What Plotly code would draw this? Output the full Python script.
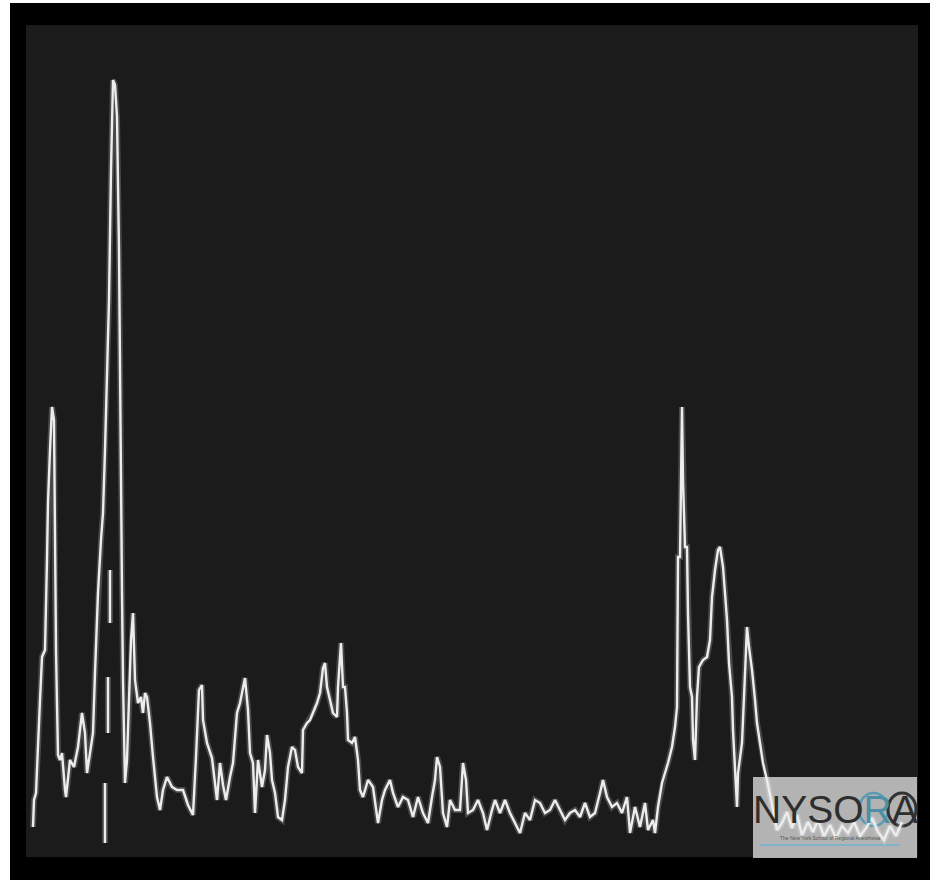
import plotly.graph_objects as go

# Trace samples (sample index along sweep, amplitude in display units)
sample = [7, 8, 10, 12, 14, 16, 19, 21, 22, 24, 26, 28, 29, 30, 31, 32, 34, 36, 39, 40,
          44, 48, 52, 56, 59, 61, 64, 67, 69, 72, 75, 77, 79, 81, 83, 85, 87, 89, 91, 93,
          94, 95, 96, 97, 98, 99, 101, 103, 105, 107, 109, 112, 115, 117, 119, 121, 124, 127, 131, 134,
          137, 141, 146, 151, 157, 162, 167, 170, 173, 176, 177, 181, 186, 191, 194, 197, 200, 204, 207, 211,
          214, 219, 222, 224, 227, 229, 232, 236, 239, 241, 244, 246, 249, 252, 256, 259, 262, 266, 269, 272,
          276, 277, 281, 284, 287, 291, 294, 297, 299, 301, 304, 307, 311, 312, 315, 317, 319, 321, 322, 326,
          329, 332, 334, 337, 342, 347, 352, 356, 359, 364, 367, 372, 377, 382, 387, 392, 397, 402, 406, 409,
          411, 414, 417, 421, 424, 429, 434, 437, 440, 442, 447, 452, 457, 461, 466, 469, 474, 479, 484, 489,
          494, 499, 504, 509, 514, 519, 524, 529, 534, 539, 544, 549, 554, 559, 564, 569, 574, 577, 581, 586,
          591, 596, 601, 604, 609, 614, 619, 622, 627, 629, 632, 636, 639, 642, 646, 649, 651, 652, 654, 656,
          657, 659, 661, 662, 664, 666, 667, 669, 671, 673, 677, 681, 684, 686, 689, 692, 694, 697, 699, 701,
          703, 706, 707, 709, 711, 712, 716, 718, 720, 721, 723, 726, 729, 731, 734, 737, 741, 746, 751, 756,
          761, 766, 771, 776, 782, 787, 792, 798, 804, 810, 816, 822, 828, 834, 840, 846, 852, 858, 864, 870, 876]
amplitude = [30, 57, 64, 117, 157, 200, 207, 297, 354, 407, 450, 437, 270, 207, 154, 102, 97, 104, 67, 60,
             97, 90, 110, 144, 124, 84, 104, 124, 184, 264, 317, 344, 407, 477, 557, 687, 777, 772, 740, 607,
             457, 377, 264, 177, 117, 74, 97, 157, 217, 244, 177, 154, 160, 144, 164, 160, 134, 100, 60, 47,
             67, 80, 70, 67, 67, 52, 42, 100, 167, 172, 137, 114, 99, 57, 94, 72, 57, 80, 94, 144,
             154, 179, 147, 104, 94, 44, 97, 70, 87, 122, 104, 77, 64, 40, 37, 57, 90, 110, 107, 90,
             84, 127, 134, 137, 144, 154, 164, 189, 194, 170, 157, 144, 140, 170, 214, 170, 170, 144, 117, 114,
             120, 97, 67, 60, 77, 70, 34, 57, 67, 77, 64, 50, 60, 57, 40, 60, 44, 34, 60, 77,
             100, 90, 44, 30, 57, 47, 47, 94, 77, 44, 47, 57, 44, 27, 47, 57, 44, 57, 44, 34,
             24, 44, 37, 57, 54, 44, 47, 57, 47, 37, 44, 47, 40, 54, 40, 44, 64, 77, 60, 50,
             54, 44, 60, 24, 50, 30, 54, 27, 37, 24, 50, 74, 84, 94, 110, 130, 150, 300, 300, 450,
             377, 310, 310, 244, 170, 160, 117, 97, 160, 190, 197, 200, 217, 260, 287, 307, 310, 290, 264, 237,
             194, 160, 127, 94, 50, 84, 114, 160, 210, 230, 210, 187, 157, 134, 114, 94, 77, 50, 27, 34,
             45, 29, 42, 22, 35, 25, 37, 21, 32, 19, 31, 24, 35, 21, 29, 39, 25, 17, 31, 21, 35]

# Short detached strokes of the sweep (retrace fragments)
frag_sample = [79, 79, None, 82, 82, None, 84, 84]
frag_amplitude = [74, 14, None, 180, 124, None, 287, 234]

x_all = sample + [None] + frag_sample
y_all = amplitude + [None] + frag_amplitude

fig = go.Figure()
fig.add_trace(go.Scatter(x=x_all, y=y_all, mode="lines",
                         line=dict(color="rgba(255,255,255,0.2)", width=6),
                         hoverinfo="skip", showlegend=False))
fig.add_trace(go.Scatter(x=x_all, y=y_all, mode="lines",
                         line=dict(color="#ededed", width=2.4),
                         showlegend=False))

def px(xp):
    return (xp - 26) / 892

def py(yp):
    return (857 - yp) / 832

shapes = [
    # white outer strips
    dict(type="rect", xref="paper", yref="paper", x0=px(-5), x1=px(10), y0=py(885), y1=py(-5),
         fillcolor="white", line=dict(width=0), layer="above"),
    dict(type="rect", xref="paper", yref="paper", x0=px(930), x1=px(945), y0=py(885), y1=py(-5),
         fillcolor="white", line=dict(width=0), layer="above"),
    dict(type="rect", xref="paper", yref="paper", x0=px(-5), x1=px(945), y0=py(3), y1=py(-5),
         fillcolor="white", line=dict(width=0), layer="above"),
    # logo box
    dict(type="rect", xref="paper", yref="paper", x0=px(753), x1=px(917), y0=py(858), y1=py(777),
         fillcolor="rgba(200,200,200,0.88)", line=dict(width=0), layer="below"),
    dict(type="circle", xref="paper", yref="paper", x0=px(859), x1=px(888), y0=py(826), y1=py(793),
         fillcolor="rgba(0,0,0,0)", line=dict(color="#5a9bb3", width=2.5), layer="below"),
    dict(type="circle", xref="paper", yref="paper", x0=px(888), x1=px(916), y0=py(826), y1=py(793),
         fillcolor="rgba(0,0,0,0)", line=dict(color="#333333", width=3), layer="below"),
    dict(type="line", xref="paper", yref="paper", x0=px(760), x1=px(900), y0=py(845), y1=py(845),
         line=dict(color="#7fb3cc", width=2), layer="below"),
]

fig.update_layout(
    width=940, height=880,
    margin=dict(l=26, r=22, t=25, b=23),
    paper_bgcolor="#000000",
    plot_bgcolor="#1b1b1b",
    xaxis=dict(visible=False, range=[0, 892], fixedrange=True),
    yaxis=dict(visible=False, range=[0, 832], fixedrange=True),
    shapes=shapes,
    annotations=[
        dict(xref="paper", yref="paper", x=px(835), y=py(809), xanchor="center", yanchor="middle",
             text="NYSO<span style='color:#4f8fa6'>R</span>A", showarrow=False,
             font=dict(family="Liberation Sans, Arial", size=39, color="#2e2e2e")),
        dict(xref="paper", yref="paper", x=px(830), y=py(838), xanchor="center", yanchor="middle",
             text="The New York School of Regional Anesthesia", showarrow=False,
             font=dict(family="Liberation Sans, Arial", size=5, color="#555555")),
    ],
)

fig.write_html("out.html", config={"displayModeBar": False},
               post_script="document.body.style.margin='0';document.body.style.padding='0';")
